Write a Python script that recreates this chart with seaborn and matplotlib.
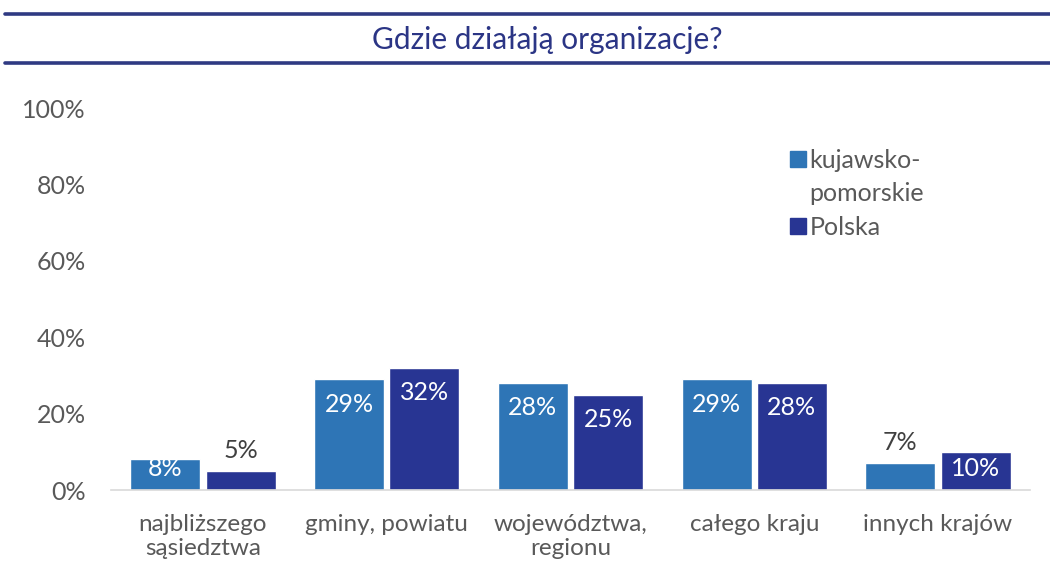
import pandas as pd
import seaborn as sns
import matplotlib.pyplot as plt
from matplotlib.lines import Line2D
from matplotlib.patches import Patch

# Dane
kategorie = ['najbliższego\nsąsiedztwa', 'gminy, powiatu', 'województwa,\nregionu',
             'całego kraju', 'innych krajów']
kujawsko_pomorskie = [8, 29, 28, 29, 7]
polska = [5, 32, 25, 28, 10]
serie = ['kujawsko-pomorskie', 'Polska']
kolory = ['#2e75b6', '#283593']
y_ticks = [0, 20, 40, 60, 80, 100]

dat = pd.DataFrame({
    'kategoria': kategorie * 2,
    'wartosc': kujawsko_pomorskie + polska,
    'seria': [serie[0]] * len(kategorie) + [serie[1]] * len(kategorie),
})

sns.set_style('white')
plt.rcParams['font.family'] = ['Lato', 'DejaVu Sans']

fig = plt.figure(figsize=(10.5, 5.62), dpi=100)
ax = fig.add_axes([0.1057, 0.1281, 0.8752, 0.6797])

sns.barplot(data=dat, x='kategoria', y='wartosc', hue='seria', palette=kolory,
            saturation=1, width=0.82, gap=0.07, ax=ax, legend=False)

ax.set_ylim(0, 100)
ax.set_yticks(y_ticks)
ax.set_yticklabels([f'{t}%' for t in y_ticks])
ax.set_xlabel('')
ax.set_ylabel('')
ax.tick_params(axis='y', length=0, pad=18, labelsize=18, labelcolor='#595959')
ax.tick_params(axis='x', length=0, pad=17, labelsize=17.5, labelcolor='#595959')
for t in ax.get_xticklabels():
    t.set_linespacing(1.2)
for s in ['top', 'right', 'left']:
    ax.spines[s].set_visible(False)
ax.spines['bottom'].set_color('#d9d9d9')
ax.spines['bottom'].set_linewidth(1.2)

# Etykiety wartości
for cont in ax.containers:
    for bar in cont:
        v = bar.get_height()
        xc = bar.get_x() + bar.get_width() / 2
        if v < 8:
            ax.text(xc, v + 5.4, f'{v:.0f}%', ha='center', va='center',
                    fontsize=18, color='#404040')
        else:
            ax.text(xc, max(v - 6.5, 5.5), f'{v:.0f}%', ha='center', va='center',
                    fontsize=18, color='white')

# Legenda
uchwyty = [Patch(color=kolory[0]), Patch(visible=False), Patch(color=kolory[1])]
etykiety = ['kujawsko-', 'pomorskie', 'Polska']
fig.legend(uchwyty, etykiety, loc='upper left', bbox_to_anchor=(0.731, 0.775),
           frameon=False, fontsize=18, labelcolor='#595959', handlelength=0.62,
           handleheight=0.62, handletextpad=0.15, labelspacing=0.42)

# Tytuł z liniami
fig.add_artist(Line2D([0.005, 1], [0.975, 0.975], color='#2f3a82', lw=2.6))
fig.add_artist(Line2D([0.005, 1], [0.888, 0.888], color='#2f3a82', lw=2.6))
fig.text(0.521, 0.929, 'Gdzie działają organizacje?', ha='center', va='center',
         fontsize=21.5, color='#2b3585')

plt.savefig('out.png', dpi=100)
